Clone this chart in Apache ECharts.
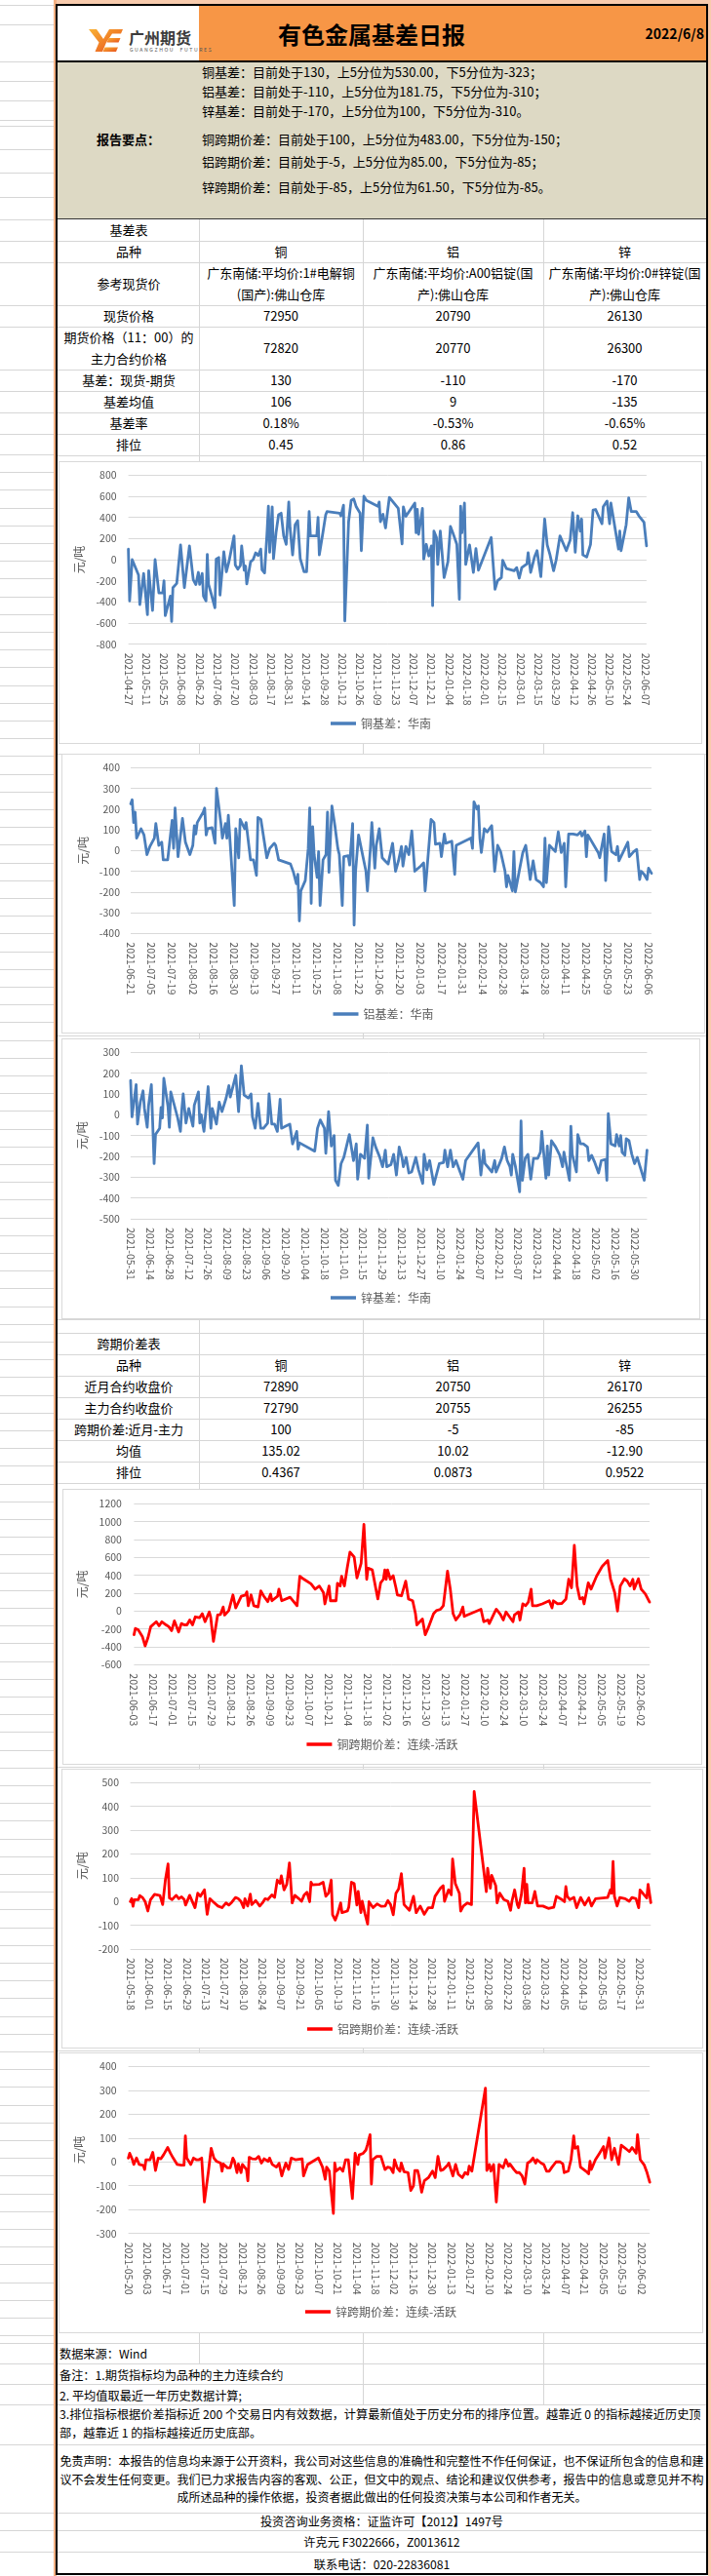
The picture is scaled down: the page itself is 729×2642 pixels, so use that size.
<!DOCTYPE html>
<html lang="zh-CN">
<head>
<meta charset="utf-8">
<title>有色金属基差日报</title>
<script src="https://cdn.jsdelivr.net/npm/echarts@6/dist/echarts.min.js"></script>
<style>
html,body{margin:0;padding:0;}
body{width:729px;height:2642px;position:relative;overflow:hidden;background:#fff;font-family:"Noto Sans CJK SC","Noto Sans",sans-serif;color:#000;}
.box{position:absolute;background:#fff;border:1px solid #d9d9d9;box-sizing:border-box;}
</style>
</head>
<body>
<script>
// ===================== DATA =====================
const reportTitle = '有色金属基差日报';
const reportDate = '2022/6/8';
const keyPoints = [
  '铜基差：目前处于130，上5分位为530.00，下5分位为-323；',
  '铝基差：目前处于-110，上5分位为181.75，下5分位为-310；',
  '锌基差：目前处于-170，上5分位为100，下5分位为-310。',
  '铜跨期价差：目前处于100，上5分位为483.00，下5分位为-150；',
  '铝跨期价差：目前处于-5，上5分位为85.00，下5分位为-85；',
  '锌跨期价差：目前处于-85，上5分位为61.50，下5分位为-85。'
];
const metals = ['铜', '铝', '锌'];
const spotRefLines = [
  ['广东南储:平均价:1#电解铜', '(国产):佛山仓库'],
  ['广东南储:平均价:A00铝锭(国', '产):佛山仓库'],
  ['广东南储:平均价:0#锌锭(国', '产):佛山仓库']
];
const spotPrice = ['72950', '20790', '26130'];
const futuresPrice = ['72820', '20770', '26300'];
const basisNow = ['130', '-110', '-170'];
const basisMean = ['106', '9', '-135'];
const basisRate = ['0.18%', '-0.53%', '-0.65%'];
const basisRank = ['0.45', '0.86', '0.52'];
const nearClose = ['72890', '20750', '26170'];
const mainClose = ['72790', '20755', '26255'];
const spreadNow = ['100', '-5', '-85'];
const spreadMean = ['135.02', '10.02', '-12.90'];
const spreadRank = ['0.4367', '0.0873', '0.9522'];

// ---- series: [days since first date of the series, 元/吨] ----
// 铜基差：华南, first date 2021-04-27
const cuBasis = [[0,100],[1,-390],[3,0],[8,-145],[9,-425],[12,-130],[15,-520],[16,-105],[19,-480],[21,0],[24,-315],[27,-315],[28,-200],[29,-530],[33,-345],[34,-585],[35,-265],[38,-225],[41,140],[44,-265],[48,130],[51,-190],[53,-235],[55,-120],[56,-235],[58,-130],[59,-345],[61,-390],[62,50],[63,-235],[65,-320],[68,-455],[69,5],[71,20],[72,-335],[75,75],[77,-115],[79,-20],[83,225],[84,-50],[86,-90],[88,-55],[89,130],[91,-100],[92,-60],[93,-230],[96,-20],[98,0],[100,65],[102,40],[104,100],[105,-95],[107,-125],[109,270],[110,505],[111,70],[113,500],[114,10],[116,255],[118,425],[120,440],[122,225],[124,145],[126,545],[127,300],[129,45],[131,330],[133,370],[135,10],[138,-115],[140,-115],[141,150],[142,455],[143,225],[148,225],[149,400],[150,45],[153,270],[155,425],[156,455],[166,440],[167,415],[169,515],[170,-580],[173,360],[175,560],[177,575],[179,500],[182,440],[183,85],[185,600],[187,560],[196,505],[197,545],[198,360],[200,430],[202,300],[205,590],[212,485],[215,150],[216,500],[218,410],[225,535],[226,255],[227,475],[228,240],[231,485],[232,5],[234,145],[236,35],[238,130],[239,-435],[240,270],[242,210],[243,-45],[245,270],[248,-170],[251,-20],[253,315],[255,250],[258,145],[260,-375],[261,505],[262,255],[264,535],[265,-45],[268,140],[271,-120],[273,105],[275,-100],[285,210],[288,-280],[290,-200],[293,-170],[294,-5],[297,-85],[303,-105],[305,-75],[307,-175],[309,-75],[313,-40],[314,65],[316,-120],[319,25],[321,85],[324,-160],[327,385],[329,140],[331,55],[334,-105],[336,-5],[339,225],[344,85],[347,185],[349,445],[351,70],[353,415],[355,270],[356,385],[357,45],[360,25],[363,145],[365,470],[367,475],[372,340],[373,500],[376,555],[378,340],[379,535],[381,390],[385,100],[386,270],[387,85],[391,330],[393,585],[395,455],[399,455],[401,415],[405,355],[407,130]];
const cuBasisTicks = ['2021-04-27','2021-05-11','2021-05-25','2021-06-08','2021-06-22','2021-07-06','2021-07-20','2021-08-03','2021-08-17','2021-08-31','2021-09-14','2021-09-28','2021-10-12','2021-10-26','2021-11-09','2021-11-23','2021-12-07','2021-12-21','2022-01-04','2022-01-18','2022-02-01','2022-02-15','2022-03-01','2022-03-15','2022-03-29','2022-04-12','2022-04-26','2022-05-10','2022-05-24','2022-06-07'];

// 铝基差：华南, first date 2021-06-21
const alBasis = [[0,225],[1,245],[2,135],[3,185],[4,60],[7,105],[9,75],[11,-20],[13,20],[16,60],[17,130],[19,25],[21,40],[22,-45],[25,-45],[28,145],[29,10],[30,205],[32,-30],[35,155],[37,40],[40,-20],[42,25],[43,120],[44,80],[45,135],[49,185],[50,205],[51,75],[52,105],[55,110],[57,35],[58,300],[61,130],[62,60],[64,130],[65,60],[66,170],[70,-265],[71,105],[73,-35],[74,150],[77,105],[78,135],[79,130],[81,-45],[83,-45],[85,-120],[86,160],[88,150],[92,-35],[94,10],[97,35],[98,25],[100,-45],[101,-50],[108,-65],[110,-105],[112,-160],[113,-115],[114,-340],[115,-195],[118,-145],[120,10],[121,205],[122,-255],[123,115],[124,-20],[126,-130],[127,-5],[128,-265],[130,-45],[132,-20],[133,185],[134,-105],[136,215],[138,120],[140,10],[141,-20],[143,-265],[144,-30],[147,-25],[148,-70],[150,130],[151,-360],[152,-100],[154,75],[157,-30],[159,-100],[160,-195],[162,10],[163,135],[165,-85],[166,25],[168,105],[170,-35],[172,-50],[174,-65],[177,35],[179,-100],[181,-50],[183,20],[184,-75],[186,20],[188,-20],[190,95],[192,-100],[196,-75],[198,-60],[199,-195],[200,-115],[203,150],[205,135],[206,30],[209,35],[210,-30],[212,80],[213,35],[217,45],[219,-115],[220,25],[230,60],[231,10],[232,235],[234,200],[235,215],[236,60],[237,-10],[239,105],[241,90],[244,120],[246,-100],[248,25],[250,-5],[253,-100],[254,-175],[255,-120],[258,-195],[259,-5],[260,-200],[263,-85],[265,-10],[267,25],[269,-85],[270,-140],[272,-50],[274,-140],[277,-155],[279,-175],[280,60],[281,-155],[283,25],[287,-5],[289,90],[291,-10],[293,35],[294,-175],[296,80],[299,80],[302,75],[304,90],[305,70],[307,95],[308,-30],[309,75],[316,-10],[317,-35],[320,80],[321,-145],[323,115],[325,-5],[328,-20],[329,20],[330,-50],[333,-5],[336,40],[337,-30],[340,-5],[342,5],[344,-140],[345,-100],[347,-115],[349,-140],[350,-85],[352,-110]];
const alBasisTicks = ['2021-06-21','2021-07-05','2021-07-19','2021-08-02','2021-08-16','2021-08-30','2021-09-13','2021-09-27','2021-10-11','2021-10-25','2021-11-08','2021-11-22','2021-12-06','2021-12-20','2022-01-03','2022-01-17','2022-01-31','2022-02-14','2022-02-28','2022-03-14','2022-03-28','2022-04-11','2022-04-25','2022-05-09','2022-05-23','2022-06-06'];

// 锌基差：华南, first date 2021-05-31
const znBasis = [[0,165],[1,-10],[2,-15],[4,145],[5,-45],[7,60],[9,115],[10,30],[12,-60],[13,45],[15,145],[17,-235],[18,-95],[21,-65],[22,35],[23,-15],[24,175],[27,40],[28,-60],[29,110],[31,60],[34,-15],[36,-80],[37,25],[38,100],[40,-40],[42,30],[45,-55],[46,45],[49,110],[50,-40],[51,0],[53,-80],[56,135],[58,-65],[59,30],[62,-45],[64,60],[66,15],[69,80],[71,140],[72,85],[76,190],[77,195],[78,15],[80,235],[82,95],[85,80],[87,100],[88,-10],[90,-65],[92,55],[94,-65],[96,-65],[99,-40],[100,100],[102,-45],[104,-45],[106,-80],[108,75],[109,-65],[112,-55],[115,-45],[117,-140],[120,-80],[121,-165],[122,-135],[133,-175],[135,-65],[137,-25],[140,-65],[141,-185],[143,15],[145,-150],[147,-100],[148,-315],[150,-340],[152,-235],[154,-205],[156,-150],[158,-95],[161,-220],[163,-140],[164,-310],[166,-190],[169,-210],[171,-50],[172,-305],[175,-110],[177,-155],[180,-205],[182,-250],[184,-170],[185,-250],[188,-240],[190,-190],[192,-290],[194,-155],[196,-205],[197,-250],[199,-205],[201,-280],[203,-275],[206,-205],[208,-265],[211,-330],[212,-190],[214,-265],[216,-220],[219,-335],[223,-235],[226,-230],[227,-170],[229,-250],[231,-170],[233,-250],[235,-220],[238,-275],[240,-310],[242,-220],[251,-135],[253,-290],[255,-170],[256,-235],[261,-275],[263,-220],[264,-275],[268,-210],[270,-155],[272,-220],[274,-250],[275,-290],[276,-190],[278,-250],[281,-370],[282,-30],[283,-315],[285,-210],[287,-190],[289,-310],[291,-210],[294,-210],[296,-180],[297,-80],[300,-305],[301,-150],[302,-290],[304,-125],[307,-155],[310,-195],[312,-250],[313,-180],[317,-315],[318,-55],[319,-190],[322,-275],[323,-95],[325,-140],[327,-140],[330,-155],[331,-220],[333,-195],[335,-225],[338,-280],[340,-220],[343,-215],[344,-315],[345,5],[347,-140],[350,-150],[351,-95],[353,-150],[354,-100],[355,-180],[357,-195],[358,-115],[360,-125],[362,-190],[364,-235],[366,-205],[368,-250],[371,-315],[373,-170]];
const znBasisTicks = ['2021-05-31','2021-06-14','2021-06-28','2021-07-12','2021-07-26','2021-08-09','2021-08-23','2021-09-06','2021-09-20','2021-10-04','2021-10-18','2021-11-01','2021-11-15','2021-11-29','2021-12-13','2021-12-27','2022-01-10','2022-01-24','2022-02-07','2022-02-21','2022-03-07','2022-03-21','2022-04-04','2022-04-18','2022-05-02','2022-05-16','2022-05-30'];

// 铜跨期价差：连续-活跃, first date 2021-06-03
const cuSpread = [[0,-265],[1,-195],[3,-210],[6,-285],[7,-290],[8,-390],[10,-300],[12,-175],[16,-120],[18,-165],[20,-120],[23,-155],[25,-175],[27,-220],[29,-110],[32,-235],[34,-140],[36,-155],[38,-155],[40,-100],[42,-155],[44,-65],[47,-75],[49,-30],[51,-120],[52,-115],[54,-10],[55,-65],[57,-340],[60,-45],[62,-40],[64,45],[65,-45],[68,5],[71,180],[73,35],[77,165],[80,180],[81,215],[82,60],[84,180],[86,60],[89,45],[91,225],[93,170],[96,105],[98,190],[99,115],[103,165],[104,245],[106,115],[112,155],[117,60],[119,390],[122,355],[127,305],[130,245],[133,280],[136,205],[137,80],[140,280],[141,115],[145,115],[146,310],[148,280],[149,390],[151,280],[153,480],[155,660],[158,605],[160,370],[163,535],[165,970],[167,355],[168,480],[171,460],[175,135],[177,315],[179,355],[180,460],[181,355],[182,460],[184,355],[186,395],[188,260],[189,180],[192,170],[195,335],[197,135],[200,115],[202,-30],[203,-155],[207,-90],[209,-265],[211,-195],[215,-30],[217,5],[220,20],[222,60],[225,445],[227,245],[229,-30],[231,-100],[234,-40],[236,45],[237,-60],[239,-45],[249,20],[251,-120],[254,-100],[255,-140],[259,-10],[260,20],[263,-40],[265,-100],[267,-10],[272,-120],[273,-45],[276,-10],[277,-100],[279,80],[281,60],[283,100],[285,245],[286,60],[289,60],[293,80],[294,60],[298,115],[300,35],[301,115],[304,80],[307,85],[310,135],[312,355],[314,260],[316,735],[318,280],[320,135],[322,150],[323,80],[326,315],[328,245],[332,390],[336,500],[340,565],[342,360],[343,365],[345,205],[347,0],[349,280],[352,360],[354,335],[356,280],[358,355],[359,245],[361,325],[362,360],[364,245],[367,190],[370,100]];
const cuSpreadTicks = ['2021-06-03','2021-06-17','2021-07-01','2021-07-15','2021-07-29','2021-08-12','2021-08-26','2021-09-09','2021-09-23','2021-10-07','2021-10-21','2021-11-04','2021-11-18','2021-12-02','2021-12-16','2021-12-30','2022-01-13','2022-01-27','2022-02-10','2022-02-24','2022-03-10','2022-03-24','2022-04-07','2022-04-21','2022-05-05','2022-05-19','2022-06-02'];

// 铝跨期价差：连续-活跃, first date 2021-05-18
const alSpread = [[0,0],[1,12],[2,-20],[3,8],[6,8],[7,25],[9,17],[11,0],[13,-40],[15,8],[18,30],[19,22],[22,25],[24,-13],[26,90],[28,158],[29,15],[31,8],[34,26],[36,12],[38,20],[40,8],[41,-15],[44,26],[48,-26],[50,35],[52,22],[55,49],[57,-54],[59,12],[61,1],[65,-19],[68,-26],[71,-6],[73,-15],[75,-5],[78,17],[80,12],[82,1],[84,-26],[85,12],[87,-19],[89,31],[90,-13],[93,4],[96,-19],[98,-6],[100,12],[102,8],[105,28],[107,17],[109,90],[111,76],[112,108],[114,49],[116,72],[117,76],[118,162],[120,-6],[122,26],[125,12],[127,1],[129,28],[131,39],[133,-1],[134,81],[135,70],[140,72],[143,81],[145,22],[147,35],[149,90],[150,-56],[152,-78],[154,-47],[156,-6],[157,-47],[161,-40],[162,-24],[164,81],[166,76],[168,-15],[169,42],[171,-47],[172,1],[174,-51],[176,-95],[177,-1],[180,-26],[183,-10],[186,-20],[189,-19],[191,4],[193,-13],[195,-56],[197,35],[199,53],[201,117],[203,-13],[204,-6],[207,-37],[210,22],[212,-47],[215,-19],[218,-54],[221,-26],[224,-26],[226,22],[230,56],[232,67],[233,1],[236,49],[238,28],[239,179],[241,76],[244,35],[245,-40],[247,-19],[250,-6],[253,-13],[255,463],[264,42],[265,140],[267,56],[268,110],[271,67],[272,-6],[274,35],[277,8],[280,1],[282,-37],[283,1],[285,49],[287,-13],[288,-26],[290,28],[292,140],[293,-6],[294,72],[295,-6],[298,-6],[300,42],[302,-19],[306,-19],[310,-29],[314,-24],[316,22],[320,8],[322,-1],[323,63],[324,22],[326,8],[329,17],[331,-26],[334,17],[337,-15],[340,15],[342,-19],[345,12],[354,17],[356,49],[357,35],[358,168],[359,22],[361,-19],[363,17],[367,12],[370,1],[372,17],[375,12],[377,-26],[378,49],[381,28],[383,15],[384,72],[386,-5]];
const alSpreadTicks = ['2021-05-18','2021-06-01','2021-06-15','2021-06-29','2021-07-13','2021-07-27','2021-08-10','2021-08-24','2021-09-07','2021-09-21','2021-10-05','2021-10-19','2021-11-02','2021-11-16','2021-11-30','2021-12-14','2021-12-28','2022-01-11','2022-01-25','2022-02-08','2022-02-22','2022-03-08','2022-03-22','2022-04-05','2022-04-19','2022-05-03','2022-05-17','2022-05-31'];

// 锌跨期价差：连续-活跃, first date 2021-05-20
const znSpread = [[0,16],[1,36],[3,9],[4,-11],[6,16],[8,-11],[11,-15],[12,-32],[13,9],[16,9],[18,40],[20,-36],[22,16],[24,13],[26,30],[29,60],[31,36],[33,16],[36,-11],[39,-14],[41,-14],[42,109],[43,16],[46,-11],[48,16],[50,9],[52,9],[54,16],[56,-168],[59,-39],[61,57],[63,16],[65,2],[68,-5],[69,-39],[70,-9],[73,-25],[75,-25],[77,16],[78,5],[80,-45],[81,-9],[83,-45],[84,-11],[87,-32],[88,-79],[89,19],[91,13],[94,12],[96,23],[98,-5],[100,13],[103,2],[104,16],[106,-11],[109,-22],[111,-6],[113,-59],[114,-39],[116,-5],[118,-32],[120,16],[123,9],[128,13],[129,-59],[132,-11],[140,16],[143,-22],[145,-73],[146,-22],[148,-39],[151,-216],[152,-5],[153,-39],[156,-25],[158,-39],[160,9],[162,9],[165,-154],[167,36],[169,-11],[170,29],[173,36],[175,50],[176,70],[178,114],[179,-93],[180,9],[183,23],[186,23],[189,-32],[191,-22],[193,-25],[195,-45],[196,9],[198,-25],[200,-39],[201,-5],[203,-41],[206,-45],[208,-120],[210,-100],[211,-36],[213,-36],[214,-59],[216,-127],[218,-79],[221,-66],[224,-39],[226,-66],[228,23],[230,-36],[232,-32],[235,-14],[236,-5],[239,-59],[241,-11],[243,-52],[246,-66],[248,-45],[250,-52],[251,-18],[253,-39],[263,309],[264,-36],[266,-11],[267,-39],[269,-11],[271,-168],[273,-11],[276,-25],[278,9],[280,-18],[281,-9],[284,-32],[286,-45],[288,-45],[290,-59],[292,-93],[294,-5],[296,2],[298,16],[300,-5],[301,9],[304,-5],[306,-11],[308,-39],[310,-39],[312,-22],[315,0],[318,0],[320,-9],[321,-45],[324,-39],[326,9],[327,57],[328,109],[329,57],[331,64],[333,-22],[337,-39],[339,-50],[340,2],[341,-32],[344,9],[347,36],[350,64],[351,16],[354,100],[356,9],[358,57],[361,-11],[363,70],[366,57],[369,43],[371,60],[374,36],[375,114],[377,9],[380,-14],[382,-45],[384,-85]];
const znSpreadTicks = ['2021-05-20','2021-06-03','2021-06-17','2021-07-01','2021-07-15','2021-07-29','2021-08-12','2021-08-26','2021-09-09','2021-09-23','2021-10-07','2021-10-21','2021-11-04','2021-11-18','2021-12-02','2021-12-16','2021-12-30','2022-01-13','2022-01-27','2022-02-10','2022-02-24','2022-03-10','2022-03-24','2022-04-07','2022-04-21','2022-05-05','2022-05-19','2022-06-02'];

const footerNotes = [
  '数据来源：Wind',
  '备注：1.期货指标均为品种的主力连续合约',
  '2. 平均值取最近一年历史数据计算;',
  '3.排位指标根据价差指标近 200 个交易日内有效数据，计算最新值处于历史分布的排序位置。越靠近 0 的指标越接近历史顶',
  '部，越靠近 1 的指标越接近历史底部。'
];
const disclaimer = [
  '免责声明：本报告的信息均来源于公开资料，我公司对这些信息的准确性和完整性不作任何保证，也不保证所包含的信息和建',
  '议不会发生任何变更。我们已力求报告内容的客观、公正，但文中的观点、结论和建议仅供参考，报告中的信息或意见并不构',
  '成所述品种的操作依据，投资者据此做出的任何投资决策与本公司和作者无关。'
];
const contacts = ['投资咨询业务资格：证监许可【2012】1497号', '许克元 F3022666，Z0013612', '联系电话：020-22836081'];

// ===================== LAYOUT =====================
const FONT = '"Noto Sans CJK SC","Noto Sans",sans-serif';
const GRID = '#d6d6d6';
const page = document.body;
function add(css, html) {
  const e = document.createElement('div');
  e.style.cssText = 'position:absolute;' + css;
  if (html != null) e.innerHTML = html;
  page.appendChild(e);
  return e;
}
function rect(x, y, w, h, c) { return add(`left:${x}px;top:${y}px;width:${w}px;height:${h}px;background:${c};`); }
function text(s, x, yc, size, o) {
  o = o || {};
  const lh = Math.round(size * 1.5);
  let tr = '';
  if (o.align === 'center') tr = 'transform:translateX(-50%);';
  if (o.align === 'right') tr = 'transform:translateX(-100%);';
  return add(`left:${x}px;top:${yc - lh / 2}px;height:${lh}px;line-height:${lh}px;font-size:${size}px;white-space:nowrap;` +
    `${o.bold ? 'font-weight:bold;' : ''}color:${o.color || '#000'};${o.ls ? 'letter-spacing:' + o.ls + 'px;' : ''}${tr}`, s);
}
const XL = 59, XR = 724;
const COLX = [204, 372, 557];
const COLC = [132, 288, 464.5, 640.5];

const gutterRows = [5, 25, 63, 83, 103, 123, 129, 153, 177, 202, 225, 247, 269, 313, 335, 379, 401, 423, 445];
for (const y of gutterRows) rect(0, y, 55, 1, GRID);
for (let y = 466; y < 2400; y += 18.2) rect(0, Math.round(y), 55, 1, GRID);
for (const y of [2403, 2424, 2445, 2466, 2507, 2577, 2595, 2617]) rect(0, y, 55, 1, GRID);

rect(55, 0, 674, 5, '#F8CBAD');
rect(55, 0, 3, 2642, '#F4B183');
rect(726, 0, 3, 2642, '#F8CBAD');
rect(57, 5, 2, 2636, '#000');
rect(XR, 5, 2, 2636, '#000');
rect(57, 4, 669, 2, '#000');
rect(57, 2639, 669, 2, '#000');

rect(XL, 6, 145, 57, '#fff');
rect(204, 6, XR - 204, 57, '#F79646');
rect(XL, 62, XR - XL, 2, '#000');
add('left:91px;top:30px;width:36px;height:23px;',
  '<svg width="36" height="23" viewBox="0 0 36 23"><defs><linearGradient id="lg" x1="0" y1="0" x2="1" y2="1">' +
  '<stop offset="0" stop-color="#F9B233"/><stop offset="1" stop-color="#E8501C"/></linearGradient></defs>' +
  '<path fill="url(#lg)" d="M0,0 L8,0 L15,10 L21,0 L35,0 L33,4.5 L24,4.5 L18,13.5 L14,23 L6.5,23 L10.5,13.5 Z"/>' +
  '<path fill="url(#lg)" d="M20.5,9 L32.5,9 L30.5,13.5 L18.5,13.5 Z"/>' +
  '<path fill="url(#lg)" d="M16.5,18.5 L30,18.5 L28,23 L14.5,23 Z"/></svg>');
text('广州期货', 132, 38, 16, { bold: true, color: '#3c3c3c' });
text('GUANGZHOU&nbsp;&nbsp;FUTURES', 133, 50.5, 5.2, { color: '#555', ls: 1.55 });
text(reportTitle, 381, 35, 24, { bold: true, align: 'center' });
text(reportDate, 722, 34, 14, { bold: true, align: 'right' });

rect(XL, 64, XR - XL, 161, '#DDD9C4');
rect(XL, 224, XR - XL, 1, '#333');
text('报告要点：', 99, 143, 13, { bold: true });
const kpY = [74, 94, 114, 143, 166, 192];
keyPoints.forEach((s, i) => text(s, 207, kpY[i], 13));

rect(COLX[0], 225, 1, 2424 - 225, GRID);
rect(COLX[1], 225, 1, 2466 - 225, GRID);
rect(COLX[2], 225, 1, 2466 - 225, GRID);

function tableRows(ys) { for (const y of ys) rect(XL, y, XR - XL, 1, GRID); }
function cellLines(lines, col, top, bottom, size) {
  const n = lines.length, lh = 22, mid = (top + bottom) / 2;
  lines.forEach((s, i) => text(s, COLC[col], mid + (i - (n - 1) / 2) * lh, size || 13, { align: 'center' }));
}
function row(label, vals, top, bottom) {
  cellLines(Array.isArray(label) ? label : [label], 0, top, bottom);
  vals.forEach((v, i) => cellLines(Array.isArray(v) ? v : [v], i + 1, top, bottom));
}
const t1 = [225, 247, 269, 313, 335, 379, 401, 423, 445, 467];
tableRows(t1.slice(1));
cellLines(['基差表'], 0, t1[0], t1[1]);
row('品种', metals, t1[1], t1[2]);
row('参考现货价', spotRefLines, t1[2], t1[3]);
row('现货价格', spotPrice, t1[3], t1[4]);
row(['期货价格（11：00）的', '主力合约价格'], futuresPrice, t1[4], t1[5]);
row('基差：现货-期货', basisNow, t1[5], t1[6]);
row('基差均值', basisMean, t1[6], t1[7]);
row('基差率', basisRate, t1[7], t1[8]);
row('排位', basisRank, t1[8], t1[9]);
const t2 = [1353, 1367, 1389, 1411, 1433, 1455, 1477, 1499, 1521];
tableRows(t2);
cellLines(['跨期价差表'], 0, t2[1], t2[2]);
row('品种', metals, t2[2], t2[3]);
row('近月合约收盘价', nearClose, t2[3], t2[4]);
row('主力合约收盘价', mainClose, t2[4], t2[5]);
row('跨期价差:近月-主力', spreadNow, t2[5], t2[6]);
row('均值', spreadMean, t2[6], t2[7]);
row('排位', spreadRank, t2[7], t2[8]);
tableRows([773, 1062, 1812, 2103]);

tableRows([2403, 2424, 2445, 2466, 2507, 2577, 2595, 2617]);
const fnY = [2414, 2435.5, 2456.5, 2476, 2495];
footerNotes.forEach((s, i) => text(s, 61, fnY[i], 12.2));
const dsY = [2523.5, 2542.5, 2561];
disclaimer.forEach((s, i) => text(s, 391.5, dsY[i], 12, { align: 'center' }));
const ctY = [2585.7, 2606.7, 2630];
contacts.forEach((s, i) => text(s, 391.5, ctY[i], 12.2, { align: 'center' }));

// ===================== CHARTS =====================
const BLUE = '#4A7EBB', RED = '#FF0000';
const chartDefs = [
  { name: '铜基差：华南', data: cuBasis, ticks: cuBasisTicks, y: [-800, 800, 200], color: BLUE,
    box: [59.5, 473, 660.5, 290], grid: [71.6, 14.3, 531.3, 173.4], legendY: 271, nameGap: 40, lm: 12 },
  { name: '铝基差：华南', data: alBasis, ticks: alBasisTicks, y: [-400, 400, 100], color: BLUE,
    box: [63, 773, 660, 287], grid: [71, 14.3, 534, 170], legendY: 269, nameGap: 39, lm: 11 },
  { name: '锌基差：华南', data: znBasis, ticks: znBasisTicks, y: [-500, 300, 100], color: BLUE,
    box: [63, 1065, 655, 288], grid: [70.9, 14.3, 529.5, 170.7], legendY: 268, nameGap: 39, lm: 11 },
  { name: '铜跨期价差：连续-活跃', data: cuSpread, ticks: cuSpreadTicks, y: [-600, 1200, 200], color: RED,
    box: [63.7, 1527, 656, 283], grid: [73.4, 15.3, 528.6, 165], legendY: 264, nameGap: 42, lm: 12.5 },
  { name: '铝跨期价差：连续-活跃', data: alSpread, ticks: alSpreadTicks, y: [-200, 500, 100], color: RED,
    box: [62.8, 1814, 658.7, 287], grid: [70.6, 14.3, 533.7, 170.7], legendY: 269, nameGap: 40, lm: 11.6 },
  { name: '锌跨期价差：连续-活跃', data: znSpread, ticks: znSpreadTicks, y: [-300, 400, 100], color: RED,
    box: [59.5, 2105, 661, 288], grid: [71.6, 14.3, 534.6, 171.4], legendY: 268, nameGap: 40, lm: 12 }
];

chartDefs.forEach(def => {
  const [bx, by, bw, bh] = def.box;
  const b = document.createElement('div');
  b.className = 'box';
  b.style.cssText = `left:${bx}px;top:${by}px;width:${bw}px;height:${bh}px;`;
  page.appendChild(b);
  const c = add(`left:${bx}px;top:${by}px;width:${bw}px;height:${bh}px;`);
  const chart = echarts.init(c, null, { renderer: 'canvas' });
  const lastDay = def.data[def.data.length - 1][0];
  const ticks = def.ticks;
  chart.setOption({
    animation: false,
    textStyle: { fontFamily: FONT },
    grid: { left: def.grid[0], top: def.grid[1], width: def.grid[2], height: def.grid[3], containLabel: false, outerBoundsMode: 'none' },
    legend: {
      data: [{ name: def.name, icon: 'rect' }], left: 'center', top: def.legendY - 8, padding: 0,
      itemWidth: 26, itemHeight: 3.5, selectedMode: false,
      textStyle: { fontSize: 12, color: '#595959', fontFamily: FONT }
    },
    xAxis: {
      type: 'value', min: 0, max: lastDay, interval: 14,
      axisLine: { show: false }, axisTick: { show: false }, splitLine: { show: false },
      axisLabel: {
        rotate: -90, margin: 9, fontSize: 10.5, color: '#595959', fontFamily: FONT,
        showMaxLabel: false, hideOverlap: false,
        formatter: v => { const k = v / 14; return Math.abs(k - Math.round(k)) < 1e-6 ? (ticks[Math.round(k)] || '') : ''; }
      }
    },
    yAxis: {
      type: 'value', min: def.y[0], max: def.y[1], interval: def.y[2],
      name: '元/吨', nameLocation: 'middle', nameRotate: 90, nameGap: def.nameGap,
      nameTextStyle: { fontSize: 12, color: '#595959', fontFamily: FONT },
      axisLine: { show: false }, axisTick: { show: false },
      splitLine: { lineStyle: { color: '#d9d9d9', width: 1 } },
      axisLabel: { fontSize: 10.5, color: '#595959', margin: def.lm, fontFamily: FONT, formatter: v => String(v) }
    },
    series: [{
      type: 'line', name: def.name, data: def.data, symbol: 'none', showSymbol: false,
      lineStyle: { width: 2.8, color: def.color, join: 'round', cap: 'round' },
      itemStyle: { color: def.color }
    }]
  });
});
</script>
</body>
</html>
